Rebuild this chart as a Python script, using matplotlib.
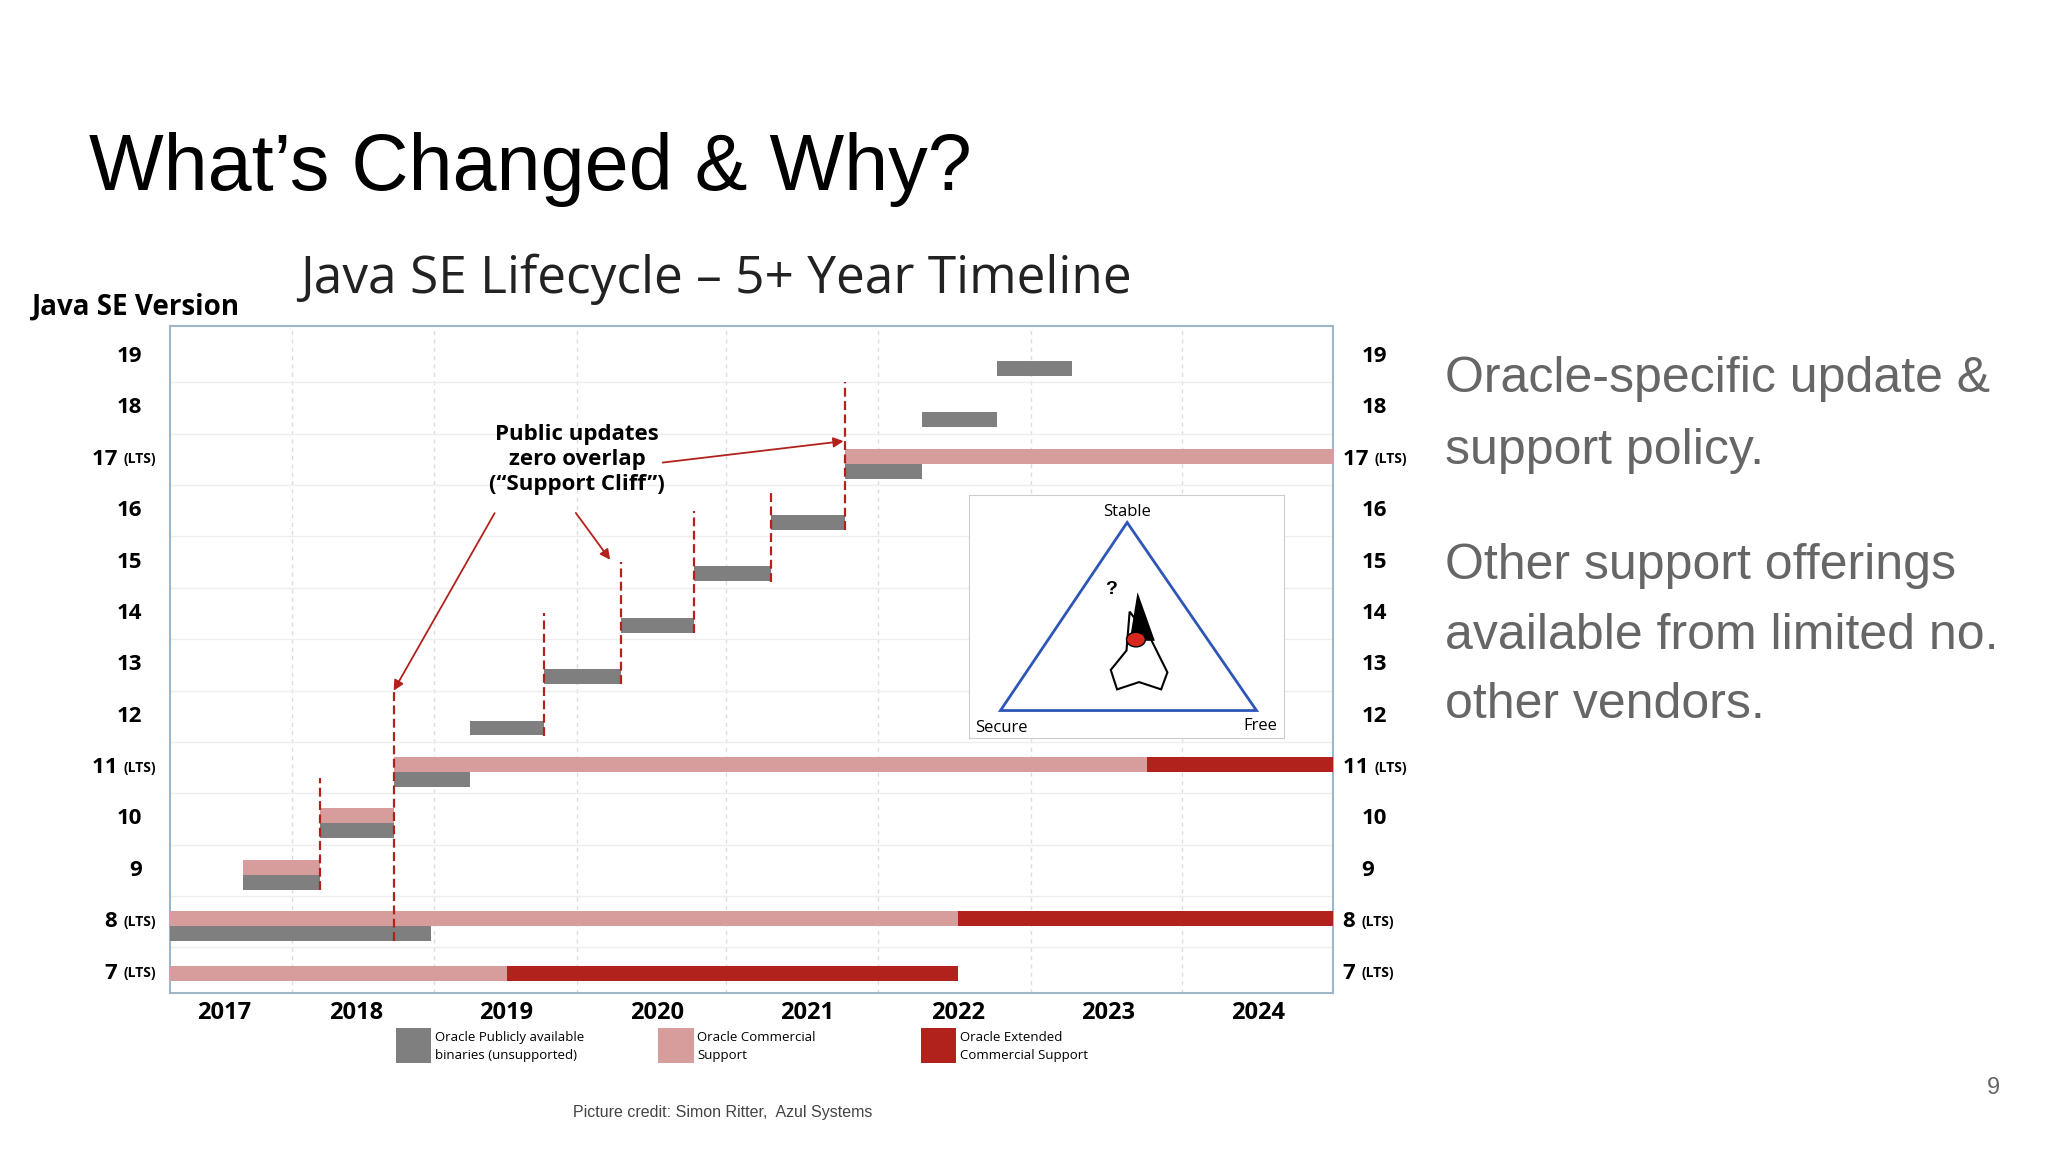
import matplotlib.pyplot as plt
from matplotlib.patches import Polygon, Ellipse, Rectangle

plt.rcParams['font.family'] = ['Liberation Sans', 'DejaVu Sans']

GRAY = '#7f7f7f'
PINK = '#d79c9c'
RED = '#b2221d'
OS = ['Open Sans', 'DejaVu Sans']

versions = ['7', '8', '9', '10', '11', '12', '13', '14', '15', '16', '17', '18', '19']
lts = ['7', '8', '11', '17']

# free public binaries (gray): version -> (start, end)
public = {'8': (2016.76, 2018.5), '9': (2017.25, 2017.76), '10': (2017.76, 2018.25),
          '11': (2018.25, 2018.76), '12': (2018.76, 2019.25), '13': (2019.25, 2019.76),
          '14': (2019.76, 2020.25), '15': (2020.25, 2020.76), '16': (2020.76, 2021.25),
          '17': (2021.25, 2021.76), '18': (2021.76, 2022.26), '19': (2022.26, 2022.76)}
# commercial support (pink)
commercial = {'7': (2016.76, 2019.0), '8': (2016.76, 2022.0), '9': (2017.25, 2017.76),
              '10': (2017.76, 2018.25), '11': (2018.25, 2023.26), '17': (2021.25, 2024.5)}
# extended commercial support (red)
extended = {'7': (2019.0, 2022.0), '8': (2022.0, 2024.5), '11': (2023.26, 2024.5)}
# support cliffs: x, row, how far above the row the dashes reach
cliffs = [(2017.76, '9', 1.8), (2018.25, '8', 4.5), (2019.25, '12', 2.0), (2019.76, '13', 2.0),
          (2020.25, '14', 2.0), (2020.76, '15', 1.4), (2021.25, '16', 2.5)]

year_labels = ['2017', '2018', '2019', '2020', '2021', '2022', '2023', '2024']
year_pos = [2017.12, 2018.0, 2019.0, 2020.0, 2021.0, 2022.0, 2023.0, 2024.0]

fig = plt.figure(figsize=(20.48, 11.52), dpi=100)
ax = fig.add_axes([0.0829, 0.1383, 0.5682, 0.5783])
ax.set_xlim(2016.76, 2024.5)
ax.set_ylim(-0.38, 12.585)

h = 0.29
for i, v in enumerate(versions):
    if v in public:
        s, e = public[v]
        ax.barh(i - 0.23, e - s, left=s, height=h, color=GRAY, zorder=3)
    for d, c in ((commercial, PINK), (extended, RED)):
        if v in d:
            s, e = d[v]
            yc = i + 0.06 if v in public else i
            ax.barh(yc, e - s, left=s, height=h, color=c, zorder=3)

for x, v, top in cliffs:
    i = versions.index(v)
    ax.plot([x, x], [i - 0.38, i + top], color=RED, lw=1.6, ls=(0, (4, 2)), zorder=4)

for x in [2017.57, 2018.52, 2019.47, 2020.46, 2021.47, 2022.49, 2023.49]:
    ax.axvline(x, color='#dddddd', lw=1, ls=(0, (3, 3)), zorder=1)
for y in [k + 0.5 for k in range(12)]:
    ax.axhline(y, color='#eeeeee', lw=1, zorder=1)

ax.set_xticks(year_pos)
ax.set_xticklabels(year_labels, fontsize=17, fontweight='bold', family=OS)
ax.tick_params(axis='x', length=0, pad=6)
ax.set_yticks([])
for s in ax.spines.values():
    s.set_color('#9fb5c8')
    s.set_linewidth(1.5)

# version labels both sides
for i, v in enumerate(versions):
    kw = dict(transform=ax.get_yaxis_transform(), va='center', fontweight='bold', family=OS)
    if v in lts:
        t = ax.text(-0.012, i, '(LTS)', ha='right', fontsize=10, **kw)
        ax.annotate(v + ' ', xy=(0, 0.5), xycoords=t, ha='right', va='center', fontsize=16,
                    fontweight='bold', family=OS)
        t = ax.text(1.008, i, v + ' ', ha='left', fontsize=16, **kw)
        ax.annotate('(LTS)', xy=(1, 0.5), xycoords=t, ha='left', va='center', fontsize=10,
                    fontweight='bold', family=OS)
    else:
        ax.text(-0.024, i, v, ha='right', fontsize=16, **kw)
        ax.text(1.024, i, v, ha='left', fontsize=16, **kw)

# annotation
ax.text(2019.47, 10.0, 'Public updates\nzero overlap\n(\u201cSupport Cliff\u201d)', ha='center', va='center',
        fontsize=16, fontweight='bold', linespacing=1.25, family=OS)
arr = dict(arrowstyle='-|>', color=RED, lw=1.3, mutation_scale=15)
ax.annotate('', xy=(2021.26, 10.36), xytext=(2020.02, 9.93), arrowprops=arr)
ax.annotate('', xy=(2018.24, 5.45), xytext=(2018.93, 9.0), arrowprops=arr)
ax.annotate('', xy=(2019.7, 8.0), xytext=(2019.45, 9.0), arrowprops=arr)

# inset triangle
ins = fig.add_axes([0.4732, 0.3594, 0.1537, 0.2109])
ins.set_xlim(0, 1)
ins.set_ylim(0, 1)
ins.set_xticks([])
ins.set_yticks([])
for s in ins.spines.values():
    s.set_color('#cccccc')
ins.add_patch(Polygon([[0.502, 0.887], [0.0996, 0.113], [0.913, 0.113]], closed=True,
                      fill=False, ec='#2e56b8', lw=2))
ins.add_patch(Polygon([[0.47, 0.2], [0.45, 0.28], [0.5, 0.36], [0.51, 0.52], [0.58, 0.4],
                       [0.63, 0.27], [0.61, 0.2], [0.54, 0.23]], closed=True, fc='white', ec='black', lw=1.5))
ins.add_patch(Polygon([[0.51, 0.4], [0.535, 0.6], [0.59, 0.4]], closed=True, fc='black'))
ins.add_patch(Ellipse((0.53, 0.405), 0.06, 0.06, fc='#d8281e', ec='black', lw=1))
ins.text(0.45, 0.61, '?', fontsize=14, fontweight='bold', ha='center', va='center')
ins.text(0.502, 0.93, 'Stable', ha='center', va='center', fontsize=12, family=OS)
ins.text(0.02, 0.04, 'Secure', ha='left', va='center', fontsize=12, family=OS)
ins.text(0.98, 0.05, 'Free', ha='right', va='center', fontsize=12, family=OS)

# legend
legend_items = [(GRAY, 'Oracle Publicly available\nbinaries (unsupported)'),
                (PINK, 'Oracle Commercial\nSupport'),
                (RED, 'Oracle Extended\nCommercial Support')]
for k, (c, lbl) in enumerate(legend_items):
    x0 = (303 + k * 201) / 1568
    fig.patches.append(Rectangle((x0, 1 - 814 / 882), 27 / 1568, 27 / 882, transform=fig.transFigure,
                                 fc=c, ec='none'))
    fig.text(x0 + 30 / 1568, 1 - 801 / 882, lbl, fontsize=9.5, va='center', linespacing=1.5, family=OS)

# slide texts
fig.text(68 / 1568, 1 - 130 / 882, 'What\u2019s Changed & Why?', fontsize=57, va='center')
fig.text(230 / 1568, 1 - 214 / 882, 'Java SE Lifecycle \u2013 5+ Year Timeline', fontsize=37, va='center',
         family=OS, color='#222222')
fig.text(24 / 1568, 1 - 235 / 882, 'Java SE Version', fontsize=20, fontweight='bold', va='center', family=OS)
right_lines = [('Oracle-specific update &', 290), ('support policy.', 345),
               ('Other support offerings', 433), ('available from limited no.', 487),
               ('other vendors.', 540)]
for txt, yy in right_lines:
    fig.text(1106 / 1568, 1 - yy / 882, txt, fontsize=36, color='#666666', va='center')
fig.text(1526 / 1568, 1 - 833 / 882, '9', fontsize=17, color='#666666', ha='center', va='center')
fig.text(553 / 1568, 1 - 852 / 882, 'Picture credit: Simon Ritter,  Azul Systems', fontsize=11.5,
         color='#444444', ha='center', va='center')

fig.savefig('out.png', dpi=100, facecolor='white')
